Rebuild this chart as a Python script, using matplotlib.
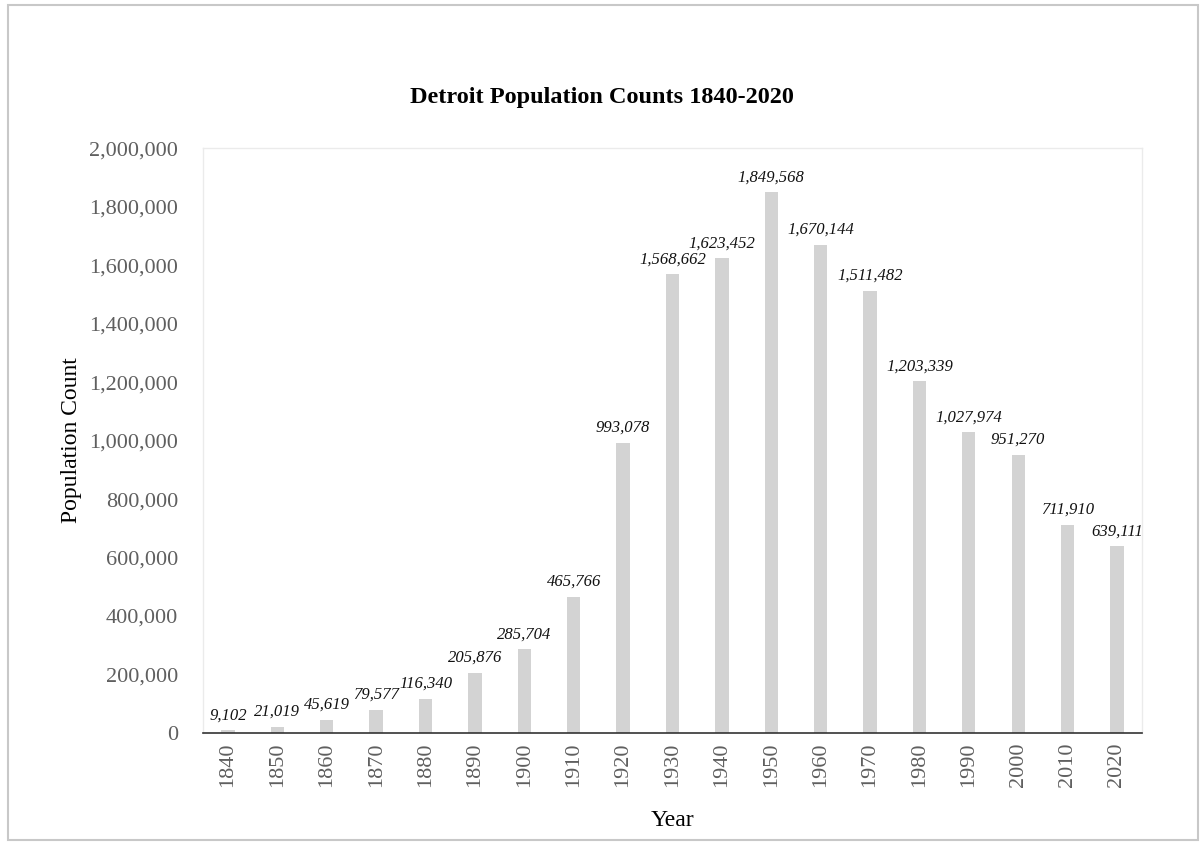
import matplotlib.pyplot as plt
from matplotlib.patches import Rectangle
import numpy as np

years = ['1840', '1850', '1860', '1870', '1880', '1890', '1900', '1910', '1920', '1930',
         '1940', '1950', '1960', '1970', '1980', '1990', '2000', '2010', '2020']
population = [9102, 21019, 45619, 79577, 116340, 205876, 285704, 465766, 993078, 1568662,
              1623452, 1849568, 1670144, 1511482, 1203339, 1027974, 951270, 711910, 639111]
yticks = [0, 200000, 400000, 600000, 800000, 1000000, 1200000, 1400000, 1600000, 1800000, 2000000]

plt.rcParams['font.family'] = ['Liberation Serif', 'DejaVu Serif']

fig = plt.figure(figsize=(12.03, 8.52), dpi=100)
ax = fig.add_axes([0.169, 0.1397, 0.78, 0.6863])

x = np.arange(len(years))
ax.bar(x, population, width=0.27, color='#d3d3d3')

# value labels above each bar
for xi, v in zip(x, population):
    ax.annotate(f'{v:,}', (xi, v), xytext=(0, 5), textcoords='offset points',
                ha='center', va='bottom', fontsize=12, style='italic', color='#111111')

ax.set_xlim(-0.5, len(years) - 0.5)
ax.set_ylim(0, 2000000)
ax.set_yticks(yticks)
ax.set_yticklabels([f'{t:,}' for t in yticks])
ax.set_xticks(x)
ax.set_xticklabels(years, rotation=90)
ax.tick_params(axis='y', length=0, pad=18, labelsize=16, labelcolor='#5f5f5f')
ax.tick_params(axis='x', length=0, pad=7, labelsize=16, labelcolor='#5f5f5f')

for side in ['top', 'right', 'left']:
    ax.spines[side].set_color('#ebebeb')
    ax.spines[side].set_linewidth(1)
ax.spines['bottom'].set_color('#333333')
ax.spines['bottom'].set_linewidth(1.2)

ax.set_ylabel('Population Count', fontsize=17, color='black')
ax.yaxis.set_label_coords(-0.129, 0.5)
ax.set_xlabel('Year', fontsize=17, color='black')
ax.xaxis.set_label_coords(0.5, -0.131)

fig.text(0.5, 0.886, 'Detroit Population Counts 1840-2020', ha='center', va='center',
         fontsize=17.5, fontweight='bold')

# outer frame
fig.patches.append(Rectangle((8 / 1203, 12 / 852), 1190 / 1203, 835 / 852,
                             transform=fig.transFigure, fill=False,
                             edgecolor='#c8c8c8', linewidth=1.5))

fig.savefig('out.png', dpi=100)
